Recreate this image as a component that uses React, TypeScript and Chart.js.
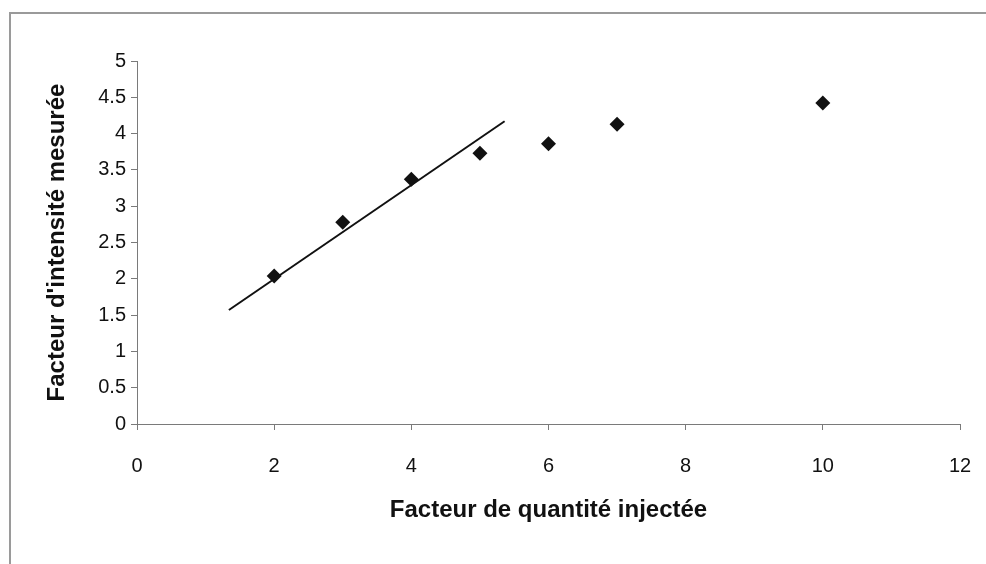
import React, { useEffect, useRef } from "react";
import { Chart, registerables } from "chart.js";

Chart.register(...registerables);

// Measured points
const injectedFactor = [2, 3, 4, 5, 6, 7, 10];
const measuredFactor = [2.04, 2.78, 3.37, 3.73, 3.86, 4.13, 4.42];

// Linear trend line endpoints
const trendX = [1.34, 5.36];
const trendY = [1.57, 4.17];

const xTitle = "Facteur de quantité injectée";
const yTitle = "Facteur d'intensité mesurée";

const FONT = "'Liberation Sans', Arial, sans-serif";

const framePlugin = {
  id: "frame",
  beforeDraw(chart: any) {
    const { ctx, width, height } = chart;
    ctx.save();
    ctx.fillStyle = "#ffffff";
    ctx.fillRect(0, 0, width, height);
    ctx.strokeStyle = "#9a9a9a";
    ctx.lineWidth = 2;
    ctx.beginPath();
    ctx.moveTo(10, height);
    ctx.lineTo(10, 13);
    ctx.lineTo(width, 13);
    ctx.stroke();
    ctx.restore();
  },
};

export default function App() {
  const ref = useRef<HTMLCanvasElement | null>(null);
  useEffect(() => {
    if (!ref.current) return;
    const chart = new Chart(ref.current, {
      type: "scatter",
      data: {
        datasets: [
          {
            label: "mesures",
            data: injectedFactor.map((x, i) => ({ x, y: measuredFactor[i] })),
            pointStyle: "rectRot",
            pointRadius: 7.5,
            pointHoverRadius: 7.5,
            backgroundColor: "#111111",
            borderColor: "#111111",
            borderWidth: 0,
            showLine: false,
          },
          {
            label: "tendance",
            data: trendX.map((x, i) => ({ x, y: trendY[i] })),
            showLine: true,
            pointRadius: 0,
            borderColor: "#111111",
            borderWidth: 2,
            backgroundColor: "#111111",
          },
        ],
      },
      options: {
        animation: false,
        responsive: false,
        maintainAspectRatio: false,
        layout: { padding: { top: 61, right: 26, left: 0, bottom: 0 } },
        plugins: {
          legend: { display: false },
          tooltip: { enabled: false },
        },
        scales: {
          x: {
            type: "linear",
            min: 0,
            max: 12,
            afterFit: (s: any) => {
              s.height = 140;
              s.paddingLeft = 0;
              s.paddingRight = 0;
            },
            ticks: {
              stepSize: 2,
              color: "#111111",
              padding: 24,
              font: { family: FONT, size: 20 },
              callback: (v: any) => String(v),
            },
            grid: {
              drawOnChartArea: false,
              drawTicks: true,
              tickLength: 6,
              color: "#7a7a7a",
            },
            border: { color: "#7a7a7a", width: 1 },
            title: {
              display: true,
              text: xTitle,
              color: "#111111",
              font: { family: FONT, size: 24, weight: "bold" },
              padding: { top: 0, bottom: 39 },
            },
          },
          y: {
            type: "linear",
            min: 0,
            max: 5,
            afterFit: (s: any) => {
              s.width = 137;
              s.paddingTop = 0;
              s.paddingBottom = 0;
            },
            ticks: {
              stepSize: 0.5,
              color: "#111111",
              padding: 5,
              font: { family: FONT, size: 20 },
              callback: (v: any) => String(v),
            },
            grid: {
              drawOnChartArea: false,
              drawTicks: true,
              tickLength: 6,
              color: "#7a7a7a",
            },
            border: { color: "#7a7a7a", width: 1 },
            title: {
              display: true,
              text: yTitle,
              color: "#111111",
              font: { family: FONT, size: 24, weight: "bold" },
              padding: { top: 43, bottom: 0 },
            },
          },
        },
      },
      plugins: [framePlugin],
    });
    return () => chart.destroy();
  }, []);
  return (
    <div style={{ position: "fixed", left: 0, top: 0, width: 986, height: 564, background: "#fff" }}>
      <canvas ref={ref} width={986} height={564} style={{ width: 986, height: 564, display: "block" }} />
    </div>
  );
}
